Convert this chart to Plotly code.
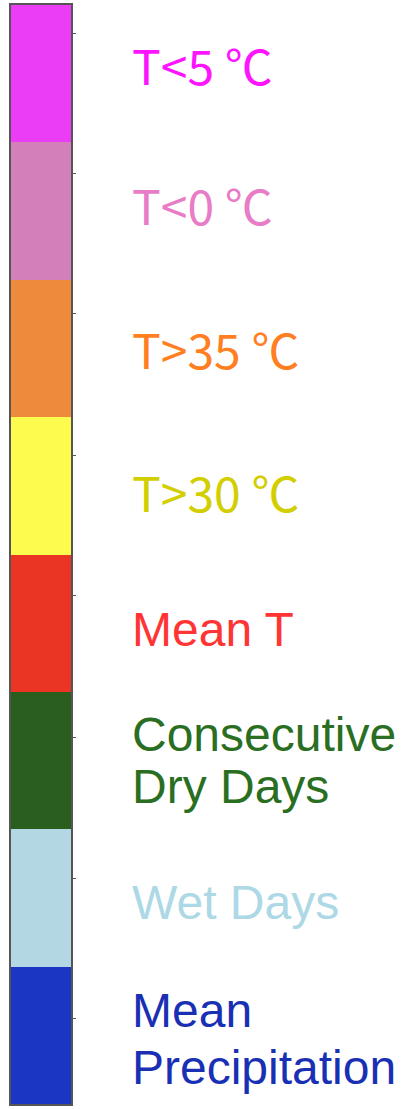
import plotly.graph_objects as go

# Categories from bottom to top
categories = ["Mean<br>Precipitation", "Wet Days", "Consecutive<br>Dry Days", "Mean T",
              "T>30 ℃", "T>35 ℃", "T<0 ℃", "T<5 ℃"]
band_values = [1, 1, 1, 1, 1, 1, 1, 1]
tick_values = [0.626, 1.645, 2.671, 3.698, 4.724, 5.751, 6.770, 7.796]

# styles
fill_colors = ["#1b36c2", "#b3d8e3", "#2a5e1f", "#ea3424",
               "#fefb4f", "#ee8a3b", "#d37fb9", "#ea3df5"]
text_colors = ["#1a30b4", "#add8e6", "#2a6e22", "#ff3434",
               "#d2ce00", "#ff7f22", "#e87cc6", "#ff14ff"]
label_fonts = ["Liberation Sans", "Liberation Sans", "Liberation Sans", "Liberation Sans",
               "Noto Sans CJK SC", "Noto Sans CJK SC", "Noto Sans CJK SC", "Noto Sans CJK SC"]
label_nudge_px = [-4, -5, 0, -6, -5, 0, 7, 10]
line_gap_px = [57, 52, 52, 52, 52, 52, 52, 52]

bases = []
acc = 0
for v in band_values:
    bases.append(acc)
    acc += v

fig = go.Figure()
fig.add_trace(go.Bar(
    x=[0] * len(categories),
    y=band_values,
    base=bases,
    width=1,
    marker=dict(color=fill_colors, line=dict(width=0)),
    hoverinfo="skip",
    showlegend=False,
))

annotations = []
for i, lab in enumerate(categories):
    lines = lab.split("<br>")
    n = len(lines)
    center = bases[i] + band_values[i] / 2
    for j, ln in enumerate(lines):
        annotations.append(dict(
            x=130 / 403, xref="paper", xanchor="left",
            y=center, yref="y", yanchor="middle",
            yshift=((n - 1) / 2 - j) * line_gap_px[i] + label_nudge_px[i],
            text=ln, showarrow=False,
            font=dict(size=48, color=text_colors[i], family=label_fonts[i]),
        ))

fig.update_layout(
    width=403, height=1109,
    margin=dict(l=0, r=0, t=0, b=0),
    paper_bgcolor="white", plot_bgcolor="white",
    bargap=0,
    annotations=annotations,
    xaxis=dict(domain=[11 / 403, 71 / 403], range=[-0.5, 0.5], showgrid=False,
               zeroline=False, showticklabels=False, ticks="",
               showline=True, mirror=True, linecolor="#555555", linewidth=2),
    yaxis=dict(domain=[5 / 1109, 1104 / 1109], range=[0, acc], side="right",
               showgrid=False, zeroline=False, showticklabels=False,
               tickmode="array", tickvals=tick_values, ticks="outside",
               ticklen=3, tickcolor="#555555", tickwidth=1,
               showline=True, mirror=True, linecolor="#555555", linewidth=2),
)

fig.write_html("out.html", config={"displayModeBar": False},
               post_script="document.body.style.margin='0';document.body.style.overflow='hidden';")
